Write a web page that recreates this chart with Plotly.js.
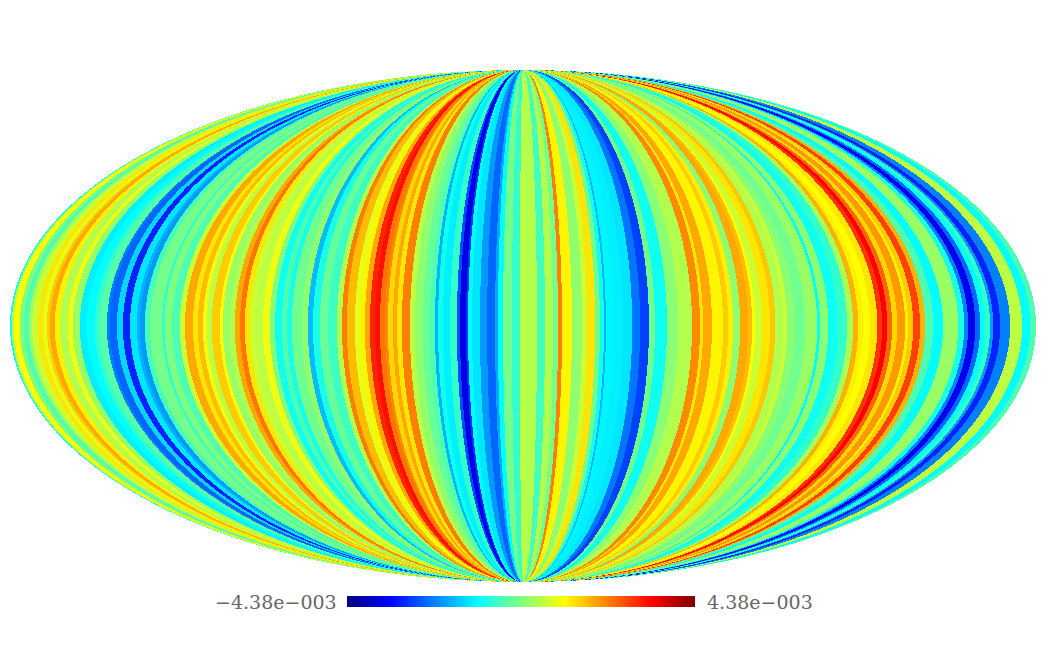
<!DOCTYPE html>
<html>
<head>
<meta charset="utf-8">
<script src="https://cdn.plot.ly/plotly-3.0.1.min.js"></script>
<style>html,body{margin:0;padding:0;background:#fff}</style>
</head>
<body>
<div id="map" style="width:1048px;height:654px"></div>
<script>
// stripes read along the equator: east edge of each stripe (deg) and its value (fraction of limit)
var stripeLon = [-179.4,-178.7,-176.6,-175.1,-173.4,-172.3,-170.2,-168.5,-167.1,-166.0,-164.3,-162.5,-159.7,-158.0,-155.5,-153.0,-150.2,-148.5,-146.0,-145.0,-142.5,-140.4,-137.9,-135.5,-134.4,-132.7,-130.9,-126.7,-125.7,-123.2,-120.4,-118.6,-115.8,-114.1,-112.3,-110.9,-109.2,-106.4,-105.3,-102.8,-101.1,-99.3,-97.6,-95.8,-94.1,-91.3,-88.8,-87.0,-84.6,-82.8,-81.1,-77.6,-75.5,-73.7,-71.3,-68.4,-65.3,-63.5,-61.8,-59.0,-57.2,-55.5,-53.7,-51.9,-50.2,-48.4,-47.4,-45.6,-44.2,-42.5,-39.7,-37.9,-35.1,-32.6,-30.9,-29.8,-28.1,-25.6,-23.2,-22.1,-20.0,-19.3,-17.9,-15.1,-12.6,-9.8,-8.8,-7.0,-3.9,-1.1,0.7,4.9,7.7,9.5,10.5,12.3,13.7,17.2,20.7,22.5,25.3,27.0,28.4,29.1,31.6,35.1,38.3,41.1,44.2,46.3,50.5,54.4,59.3,62.1,63.2,66.3,70.2,72.0,73.7,76.2,79.0,80.4,81.4,83.9,86.7,88.5,91.3,92.7,95.5,99.0,103.2,104.2,107.1,110.6,113.7,115.8,117.6,119.3,121.8,124.3,126.0,127.8,129.5,131.3,134.1,135.1,136.9,139.3,141.1,143.9,147.4,148.8,152.7,154.8,156.2,158.7,160.4,162.2,163.9,165.0,167.4,170.9,175.1,178.0,180];
var stripeValue = [-.2,.1,.25,0,-.1,.05,.15,.3,.2,.35,.42,.28,.1,.22,.05,-.28,-.25,-.15,-.08,-.5,-.55,-.33,-.68,-.3,-.4,-.45,-.12,-.02,-.15,0,-.1,.15,.42,.3,.38,.22,.12,.35,.25,.05,.1,.42,.52,.3,.15,.12,.22,0,-.22,-.1,-.2,-.03,.03,-.38,-.2,-.05,-.13,.1,.5,.38,.2,.27,.42,.68,.72,.52,.48,.33,.42,.3,.5,.12,.03,-.05,-.1,-.4,-.22,-.28,-.15,-.6,-.8,-.65,-.25,-.3,-.45,-.55,-.42,-.25,-.02,-.15,.12,.1,-.12,.1,.08,-.02,.5,.27,.03,.15,.3,-.03,-.22,-.4,-.27,-.28,-.3,-.52,-.62,-.03,-.22,.02,.1,.48,.3,.42,.27,.35,.28,.03,.42,.38,.25,.15,.3,.36,.1,.15,.02,-.03,.05,-.25,.02,-.22,-.15,.08,.4,.28,.25,.3,.65,.75,.55,.33,.45,.28,.35,.62,.4,-.1,-.25,.05,.05,-.2,-.5,-.78,-.55,-.25,-.15,-.45,-.68,-.5,.12,-.25,-.1];
var limit = 4.38e-3;
var lowLabel = '\u22124.38e\u2212003';
var highLabel = '4.38e\u2212003';

var jet = [[0,'#00007f'],[0.125,'#0000ff'],[0.375,'#00ffff'],[0.625,'#ffff00'],[0.875,'#ff0000'],[1,'#7f0000']];

function valueAt(lon) {
  for (var i = 0; i < stripeLon.length; i++) {
    if (lon <= stripeLon[i]) return stripeValue[i] * limit;
  }
  return stripeValue[stripeValue.length - 1] * limit;
}

// inverse Mollweide, one grid cell at a time
var nx = 1026, ny = 512;
var xMax = 2 * Math.SQRT2, yMax = Math.SQRT2;
var xs = [], ys = [], zs = [];
for (var i = 0; i < nx; i++) xs.push(-xMax + (i + 0.5) * 2 * xMax / nx);
for (var j = 0; j < ny; j++) {
  var y = -yMax + (j + 0.5) * 2 * yMax / ny;
  ys.push(y);
  var row = [];
  var cosT = Math.sqrt(1 - y * y / 2);
  for (var k = 0; k < nx; k++) {
    var lon = 180 * xs[k] / (xMax * cosT);
    row.push(Math.abs(lon) > 180 ? null : valueAt(lon));
  }
  zs.push(row);
}

var data = [{
  type: 'heatmap',
  x: xs,
  y: ys,
  z: zs,
  zmin: -limit,
  zmax: limit,
  colorscale: jet,
  hoverinfo: 'skip',
  colorbar: {
    orientation: 'h',
    xref: 'container', yref: 'container',
    x: 532 / 1048, xanchor: 'center',
    y: 47 / 654, yanchor: 'bottom',
    lenmode: 'pixels', len: 348,
    thicknessmode: 'pixels', thickness: 11,
    outlinewidth: 0,
    xpad: 0, ypad: 0,
    ticks: '',
    showticklabels: false
  }
}];

var labelFont = {family: 'DejaVu Serif', size: 19, color: '#666666'};

var layout = {
  width: 1048,
  height: 654,
  margin: {l: 10, r: 12, t: 70, b: 72, pad: 0},
  paper_bgcolor: '#ffffff',
  plot_bgcolor: '#ffffff',
  xaxis: {range: [-xMax, xMax], visible: false, fixedrange: true},
  yaxis: {range: [-yMax, yMax], visible: false, fixedrange: true},
  annotations: [
    {text: lowLabel, showarrow: false, xref: 'paper', yref: 'paper', x: 328 / 1026, y: -20 / 512, xanchor: 'right', yanchor: 'middle', font: labelFont, borderpad: 0},
    {text: highLabel, showarrow: false, xref: 'paper', yref: 'paper', x: 696 / 1026, y: -20 / 512, xanchor: 'left', yanchor: 'middle', font: labelFont, borderpad: 0}
  ]
};

Plotly.newPlot('map', data, layout, {displayModeBar: false, staticPlot: true});
</script>
</body>
</html>
